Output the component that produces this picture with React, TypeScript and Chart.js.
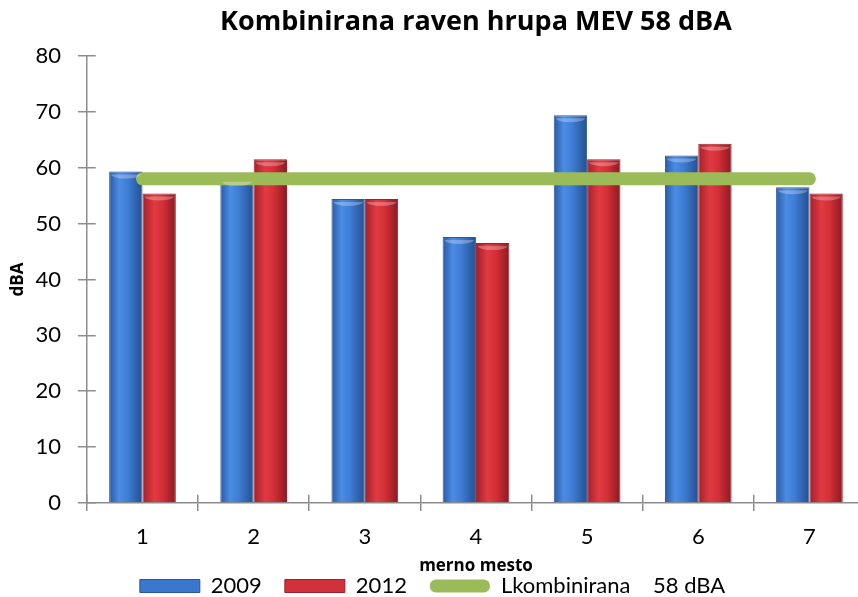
import React, { useEffect, useRef } from 'react';
import { Chart, registerables } from 'chart.js';

Chart.register(...registerables);

// ---- data ----
const categories = ['1', '2', '3', '4', '5', '6', '7'];
const values2009 = [59.3, 58, 54.4, 47.6, 69.4, 62.2, 56.5];
const values2012 = [55.4, 61.5, 54.4, 46.5, 61.5, 64.3, 55.4];
const limitValues = [58, 58, 58, 58, 58, 58, 58];
const seriesNames = ['2009', '2012', 'Lkombinirana    58 dBA'];
const yMin = 0;
const yMax = 80;
const yStep = 10;
const titleText = 'Kombinirana raven hrupa MEV 58 dBA';
const xTitle = 'merno mesto';
const yTitle = 'dBA';

// ---- styles ----
const CAT_PCT = 0.6;
const AXIS_COLOR = '#8c8c8c';
const AXIS_W = 1.5;
const BLUE = '#3a78cf';
const RED = '#d2303a';
const GREEN = '#9bbb59';
const blueStops: [number, string][] = [
  [0, '#2a5aa3'],
  [0.3, '#4b8ce4'],
  [0.55, '#3f7dd6'],
  [1, '#24508f'],
];
const redStops: [number, string][] = [
  [0, '#a3202a'],
  [0.35, '#e03a42'],
  [0.6, '#d42f37'],
  [1, '#8c1a22'],
];

function barFill(stops: [number, string][], side: number, solid: string) {
  return (ctx: any) => {
    if (ctx.type !== 'data') return solid;
    const chart = ctx.chart;
    const xs = chart.scales && chart.scales.x;
    if (!xs || !chart.chartArea) return solid;
    const n = chart.data.labels.length;
    const cw = xs.width / n;
    const bw = (cw * CAT_PCT) / 2;
    const c = xs.getPixelForValue(ctx.dataIndex);
    const left = side === 0 ? c - bw : c;
    const g = chart.ctx.createLinearGradient(left, 0, left + bw, 0);
    stops.forEach(([o, col]) => g.addColorStop(o, col));
    return g;
  };
}

const crossTicks = {
  id: 'crossTicks',
  afterDraw(chart: any) {
    const { ctx } = chart;
    const xs = chart.scales.x;
    const ys = chart.scales.y;
    ctx.save();
    ctx.strokeStyle = AXIS_COLOR;
    ctx.lineWidth = AXIS_W;
    const ax = Math.round(xs.left - AXIS_W / 2) + AXIS_W / 2;
    ys.ticks.forEach((_t: any, i: number) => {
      const y = Math.round(ys.getPixelForTick(i) - AXIS_W / 2) + AXIS_W / 2;
      ctx.beginPath();
      ctx.moveTo(ax, y);
      ctx.lineTo(ax + 9, y);
      ctx.stroke();
    });
    const n = chart.data.labels.length;
    const by = Math.round(ys.bottom - AXIS_W / 2) + AXIS_W / 2;
    for (let i = 0; i <= n; i++) {
      const x = Math.round(xs.left + (i * xs.width) / n - AXIS_W / 2) + AXIS_W / 2;
      ctx.beginPath();
      ctx.moveTo(x, by);
      ctx.lineTo(x, by - 8);
      ctx.stroke();
    }
    ctx.restore();
  },
};

const capHighlight = {
  id: 'capHighlight',
  afterDatasetsDraw(chart: any) {
    const { ctx } = chart;
    [0, 1].forEach((di) => {
      const meta = chart.getDatasetMeta(di);
      meta.data.forEach((bar: any) => {
        const w = bar.width;
        ctx.save();
        ctx.beginPath();
        ctx.ellipse(bar.x, bar.y + 3, w / 2 - 2, 4, 0, 0, Math.PI);
        ctx.fillStyle = 'rgba(255,255,255,0.28)';
        ctx.fill();
        ctx.restore();
      });
    });
  },
};

export default function App() {
  const ref = useRef<HTMLCanvasElement | null>(null);

  useEffect(() => {
    if (!ref.current) return;
    const chart = new Chart(ref.current, {
      type: 'bar',
      data: {
        labels: categories,
        datasets: [
          {
            type: 'bar',
            label: seriesNames[0],
            data: values2009,
            backgroundColor: barFill(blueStops, 0, BLUE) as any,
            borderColor: '#2b5797',
            borderWidth: 1,
            categoryPercentage: CAT_PCT,
            barPercentage: 1,
            order: 1,
          },
          {
            type: 'bar',
            label: seriesNames[1],
            data: values2012,
            backgroundColor: barFill(redStops, 1, RED) as any,
            borderColor: '#9a2228',
            borderWidth: 1,
            categoryPercentage: CAT_PCT,
            barPercentage: 1,
            order: 1,
          },
          {
            type: 'line',
            label: seriesNames[2],
            data: limitValues,
            borderColor: GREEN,
            backgroundColor: GREEN,
            borderWidth: 13,
            borderCapStyle: 'round',
            pointRadius: 0,
            pointHoverRadius: 0,
            fill: false,
            order: 0,
          } as any,
        ],
      },
      options: {
        responsive: false,
        animation: false,
        layout: { padding: { left: 0, right: 0, top: 0, bottom: -10 } },
        plugins: {
          title: {
            display: true,
            text: titleText,
            fullSize: false,
            color: '#000',
            font: { family: 'Open Sans', size: 27, weight: 'bold' },
            padding: { top: 6, bottom: 17.5 },
          },
          legend: {
            position: 'bottom',
            labels: {
              color: '#000',
              font: { family: 'Lato', size: 22 },
              boxWidth: 60,
              boxHeight: 13,
              padding: 23,
              useBorderRadius: true,
              generateLabels: (ch: any) => {
                const items = (Chart.defaults.plugins.legend.labels as any).generateLabels(ch);
                return items
                  .sort((a: any, b: any) => a.datasetIndex - b.datasetIndex)
                  .map((it: any) => {
                    if (it.datasetIndex === 2) {
                      return { ...it, fillStyle: GREEN, strokeStyle: GREEN, lineWidth: 0, borderRadius: 6 };
                    }
                    return {
                      ...it,
                      fillStyle: it.datasetIndex === 0 ? BLUE : RED,
                      lineWidth: 1,
                      borderRadius: 0,
                    };
                  });
              },
            },
          },
          tooltip: { enabled: false },
        },
        scales: {
          x: {
            offset: true,
            grid: {
              offset: true,
              drawOnChartArea: false,
              drawTicks: true,
              tickLength: 8,
              color: AXIS_COLOR,
              lineWidth: AXIS_W,
            },
            border: { display: true, color: AXIS_COLOR, width: AXIS_W },
            ticks: {
              color: '#000',
              font: { family: 'Lato', size: 22 },
              padding: 13,
            },
            title: {
              display: true,
              text: xTitle,
              color: '#000',
              font: { family: 'Open Sans', size: 17, weight: 'bold' },
              padding: { top: -7.6, bottom: -24.2 },
            },
          },
          y: {
            min: yMin,
            max: yMax,
            grid: {
              drawOnChartArea: false,
              drawTicks: true,
              tickLength: 9,
              color: AXIS_COLOR,
              lineWidth: AXIS_W,
            },
            border: { display: true, color: AXIS_COLOR, width: AXIS_W },
            ticks: {
              stepSize: yStep,
              color: '#000',
              font: { family: 'Lato', size: 22 },
              padding: 17,
            },
            title: {
              display: true,
              text: yTitle,
              color: '#000',
              font: { family: 'Open Sans', size: 17, weight: 'bold' },
              padding: { top: 8, bottom: -10 },
            },
          },
        },
      },
      plugins: [crossTicks, capHighlight],
    });
    return () => chart.destroy();
  }, []);

  return (
    <div
      style={{
        position: 'fixed',
        left: 0,
        top: 0,
        width: 858,
        height: 597,
        overflow: 'hidden',
        background: '#fff',
      }}
    >
      <canvas ref={ref} width={865} height={597} style={{ display: 'block' }} />
    </div>
  );
}
